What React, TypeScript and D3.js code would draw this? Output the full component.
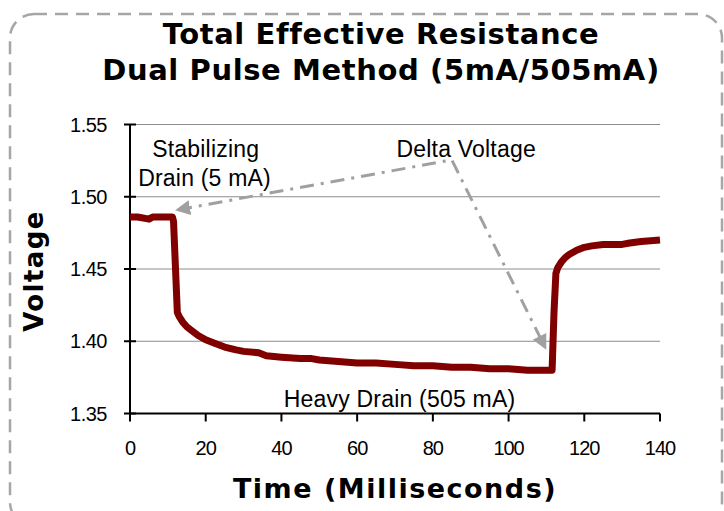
import React from "react";
import * as d3 from "d3";

const times = [0, 2, 4, 5, 6, 8, 10, 11.2, 11.5, 12.5, 13, 14, 15, 16, 18, 20, 22, 25, 28, 30, 34, 36, 40, 45, 48, 50, 55, 60, 65, 70, 75, 80, 85, 90, 95, 100, 105, 110, 111.5, 112, 112.5, 113, 114, 115, 116, 118, 120, 122, 125, 130, 132, 135, 140];
const voltages = [1.486, 1.486, 1.485, 1.4845, 1.486, 1.486, 1.486, 1.486, 1.483, 1.42, 1.417, 1.413, 1.41, 1.408, 1.404, 1.401, 1.399, 1.396, 1.394, 1.393, 1.392, 1.39, 1.389, 1.388, 1.388, 1.387, 1.386, 1.385, 1.385, 1.384, 1.383, 1.383, 1.382, 1.382, 1.381, 1.381, 1.38, 1.38, 1.38, 1.42, 1.447, 1.451, 1.455, 1.458, 1.46, 1.463, 1.465, 1.466, 1.467, 1.467, 1.468, 1.469, 1.47];

const xTicks = [0, 20, 40, 60, 80, 100, 120, 140];
const yTicks = [1.35, 1.4, 1.45, 1.5, 1.55];

const titleLines = ["Total Effective Resistance", "Dual Pulse Method (5mA/505mA)"];
const xLabel = "Time (Milliseconds)";
const yLabel = "Voltage";

// annotation anchor points in data coordinates [time, voltage]
const arrowPath: [number, number][] = [[12.7, 1.491], [85.0, 1.5255], [109.6, 1.396]];
const notes = [
  { text: "Stabilizing", t: 20.0, v: 1.5275 },
  { text: "Drain (5 mA)", t: 19.7, v: 1.5075 },
  { text: "Delta Voltage", t: 88.8, v: 1.5275 },
  { text: "Heavy Drain (505 mA)", t: 71.2, v: 1.3545 },
];

export default function App() {
  const W = 724, H = 511;
  const x = d3.scaleLinear().domain([0, 140]).range([130, 660]);
  const y = d3.scaleLinear().domain([1.35, 1.55]).range([413.5, 124.5]);
  const pts: [number, number][] = times.map((t, i) => [t, voltages[i]]);
  const line = d3.line<[number, number]>().x(d => x(d[0])).y(d => y(d[1]));
  const arrowD = line(arrowPath) || "";
  const sans = "'Liberation Sans', Arial, sans-serif";
  const bold = "'DejaVu Sans', Verdana, sans-serif";
  return (
    <svg width={W} height={H} style={{ position: "absolute", left: 0, top: 0, display: "block", background: "#fff" }}>
      <defs>
        <marker id="ah" viewBox="0 0 10 10" refX="8" refY="5" markerWidth="5" markerHeight="5" orient="auto-start-reverse" markerUnits="strokeWidth">
          <path d="M0,0 L10,5 L0,10 z" fill="#a0a0a0" />
        </marker>
      </defs>
      <rect x={10} y={14} width={712} height={512} rx={24} fill="none" stroke="#a6a6a6" strokeWidth={2.5} strokeDasharray="13,8" />
      {titleLines.map((t, i) => (
        <text key={i} x={381} y={44 + i * 36} textAnchor="middle" fontFamily={bold} fontWeight="bold" fontSize={29} letterSpacing={0.6} fill="#000">{t}</text>
      ))}
      {yTicks.map(v => (
        <line key={"g" + v} x1={130} x2={660} y1={y(v)} y2={y(v)} stroke="#8c8c8c" strokeWidth={1} />
      ))}
      <line x1={130} x2={130} y1={y(1.55)} y2={y(1.35)} stroke="#000" strokeWidth={2} />
      <line x1={130} x2={660} y1={y(1.35)} y2={y(1.35)} stroke="#000" strokeWidth={2} />
      {yTicks.map(v => (
        <g key={"y" + v}>
          <line x1={124} x2={136} y1={y(v)} y2={y(v)} stroke="#000" strokeWidth={2} />
          <text x={107} y={y(v) + 7} textAnchor="end" fontFamily={sans} fontSize={20} letterSpacing={-0.5} fill="#000">{v.toFixed(2)}</text>
        </g>
      ))}
      {xTicks.map(t => (
        <g key={"x" + t}>
          <line x1={x(t)} x2={x(t)} y1={y(1.35)} y2={y(1.35) + 8} stroke="#000" strokeWidth={2} />
          <text x={x(t)} y={455} textAnchor="middle" fontFamily={sans} fontSize={20} letterSpacing={-1} fill="#000">{t}</text>
        </g>
      ))}
      <path d={line(pts) || ""} fill="none" stroke="#800000" strokeWidth={7} strokeLinejoin="round" />
      <path d={arrowD} fill="none" stroke="#a0a0a0" strokeWidth={3} strokeDasharray="14,7,3,7" markerStart="url(#ah)" markerEnd="url(#ah)" />
      {notes.map((n, i) => (
        <text key={i} x={x(n.t)} y={y(n.v)} textAnchor="middle" fontFamily={sans} fontSize={23} letterSpacing={0.2} fill="#000">{n.text}</text>
      ))}
      <text x={395} y={498} textAnchor="middle" fontFamily={bold} fontWeight="bold" fontSize={27} letterSpacing={1.5} fill="#000">{xLabel}</text>
      <text transform={`translate(43,271) rotate(-90)`} textAnchor="middle" fontFamily={bold} fontWeight="bold" fontSize={26} letterSpacing={1.4} fill="#000">{yLabel}</text>
    </svg>
  );
}
